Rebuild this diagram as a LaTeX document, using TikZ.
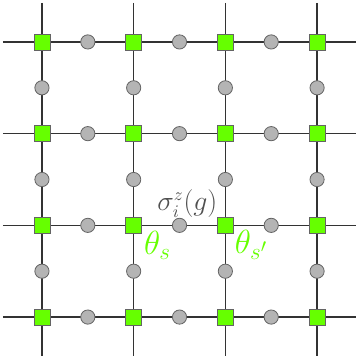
\documentclass[tikz,border=0pt]{standalone}
\usetikzlibrary{positioning}

\begin{document}
\begin{tikzpicture}

    % Define custom colors
    \definecolor{siteGreen}{RGB}{102, 255, 0}
    \definecolor{spinGray}{RGB}{180, 180, 180}
    \definecolor{rimGray}{RGB}{100, 100, 100}
    \definecolor{labelGray}{RGB}{80, 80, 80}

    \tikzset{
        site/.style={draw=rimGray, line width=0.4pt, fill=siteGreen,
                     minimum size=0.35cm, inner sep=0pt},
        spin/.style={circle, draw=rimGray, line width=0.5pt, fill=spinGray,
                     minimum size=0.31cm, inner sep=0pt},
        bond/.style={line width=0.75pt, black!80}
    }

    \useasboundingbox (-0.915,-0.98) rectangle (6.84,6.915);

    % 1. Lattice lines
    \foreach \k in {0,2,4,6} {
        \draw[bond] (-0.85,\k) -- (6.85,\k);
        \draw[bond] (\k,6.85) -- (\k,-0.85);
    }

    % 2. Spins on the links
    \foreach \i in {0,2,4,6} {
        \foreach \j in {1,3,5} {
            \node[spin] (h-\j-\i) at (\j,\i) {};
            \node[spin] (v-\i-\j) at (\i,\j) {};
        }
    }

    % 3. Sites (green squares)
    \foreach \i in {0,2,4,6} {
        \foreach \j in {0,2,4,6} {
            \node[site] (s-\i-\j) at (\i,\j) {};
        }
    }

    % 4. Labels
    \node[text=labelGray, font=\fontsize{16}{18}\selectfont, inner sep=0pt, anchor=south] (sig) at (3.17,2.17) {$\sigma^z_i(g)$};
    \node[text=siteGreen, font=\huge, anchor=west, inner sep=0pt] (ths) at (2.22,1.57) {$\theta_s$};
    \node[text=siteGreen, font=\huge, anchor=west, inner sep=0pt] (thsp) at (4.2,1.57) {$\theta_{s'}$};

\end{tikzpicture}
\end{document}
